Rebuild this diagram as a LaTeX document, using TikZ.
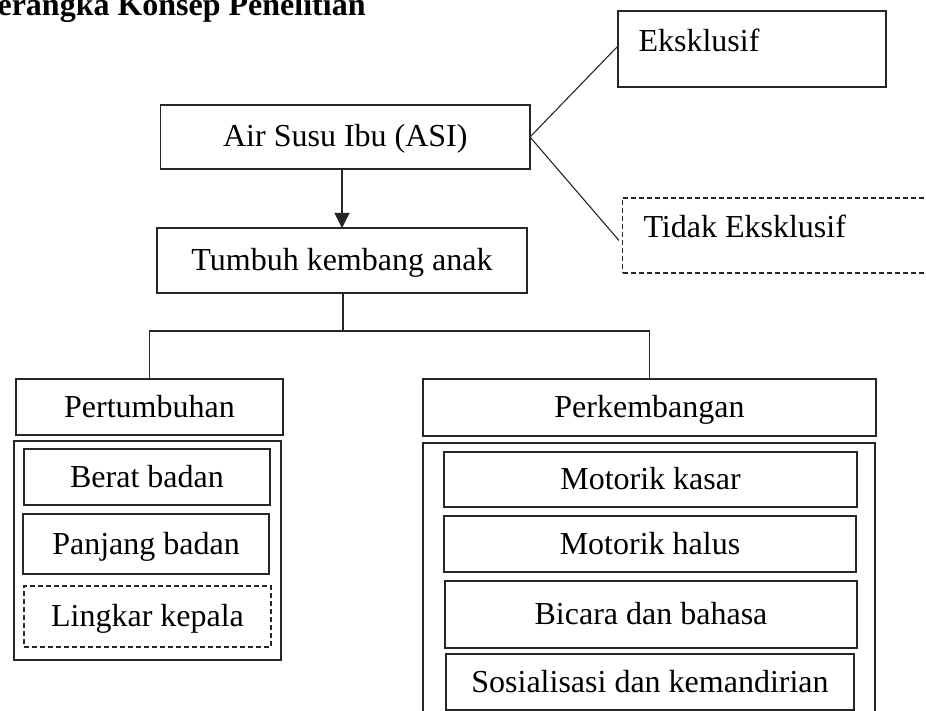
\documentclass[tikz,border=0pt]{standalone}
\usepackage{fontspec}
\setmainfont{Liberation Serif}
\usetikzlibrary{arrows.meta}
\begin{document}
\begin{tikzpicture}[x=1pt,y=-1pt,
  font=\fontsize{32}{38}\selectfont,
  line width=1.1pt,
  box/.style={draw=black!85, inner sep=0pt, outer sep=0pt, text height=24pt, text depth=4pt},
  dbox/.style={box, dash pattern=on 5pt off 3pt},
  lbl/.style={inner sep=0pt, anchor=base west},
  conn/.style={draw=black!85}
]
\useasboundingbox (0,0) rectangle (926,711);
\clip (0,0) rectangle (926,711);

% title
\node[lbl] (title) at (-3,16) {\bfseries erangka Konsep Penelitian};

% top boxes
\node[box, minimum width=369.3pt, minimum height=64pt] (asi) at (345.35,137) {Air Susu Ibu (ASI)};
\node[box, minimum width=268pt, minimum height=76pt] (eks) at (752,49) {};
\node[lbl] (eksT) at (638,52) {Eksklusif};
\node[dbox, minimum width=337.3pt, minimum height=75pt] (tidak) at (791.35,235.5) {};
\node[lbl] (tidakT) at (643,238) {Tidak Eksklusif};
\node[box, minimum width=370pt, minimum height=65pt] (tumbuh) at (342,260.5) {Tumbuh kembang anak};

% second level
\node[box, minimum width=267pt, minimum height=56pt] (pert) at (149.5,407) {Pertumbuhan};
\node[box, minimum width=453pt, minimum height=57pt] (perk) at (649.5,407.5) {Perkembangan};

% containers
\node[box, minimum width=267pt, minimum height=219pt] (pertC) at (147.5,550.5) {};
\node[box, minimum width=452pt, minimum height=297pt] (perkC) at (649,591.5) {};

% left items
\node[box, minimum width=246pt, minimum height=56pt] (bb) at (147,477) {Berat badan};
\node[box, minimum width=246pt, minimum height=60pt] (pb) at (146,544) {Panjang badan};
\node[dbox, minimum width=247pt, minimum height=61pt] (lk) at (147.5,616.5) {Lingkar kepala};

% right items
\node[box, minimum width=413pt, minimum height=55pt] (mk) at (650.5,479.5) {Motorik kasar};
\node[box, minimum width=412pt, minimum height=56pt] (mh) at (650,544) {Motorik halus};
\node[box, minimum width=412pt, minimum height=67pt] (bdb) at (651,614.5) {Bicara dan bahasa};
\node[box, minimum width=408pt, minimum height=56pt] (sdk) at (650,682) {Sosialisasi dan kemandirian};

% connectors
\draw[conn] (asi.east) -- ([yshift=3pt]eks.west);
\draw[conn] (asi.east) -- ([xshift=-3.7pt,yshift=-5pt]tidak.west);
\draw[conn, -{Triangle[width=15pt,length=15pt]}] (asi.south -| 342,0) -- (tumbuh.north -| 342,0);
\coordinate (split) at (343,331);
\draw[conn] (tumbuh.south -| split) -- (split);
\draw[conn] (pert.north) -- (pert.north |- split) -- (perk.north |- split) -- (perk.north);
\end{tikzpicture}
\end{document}
